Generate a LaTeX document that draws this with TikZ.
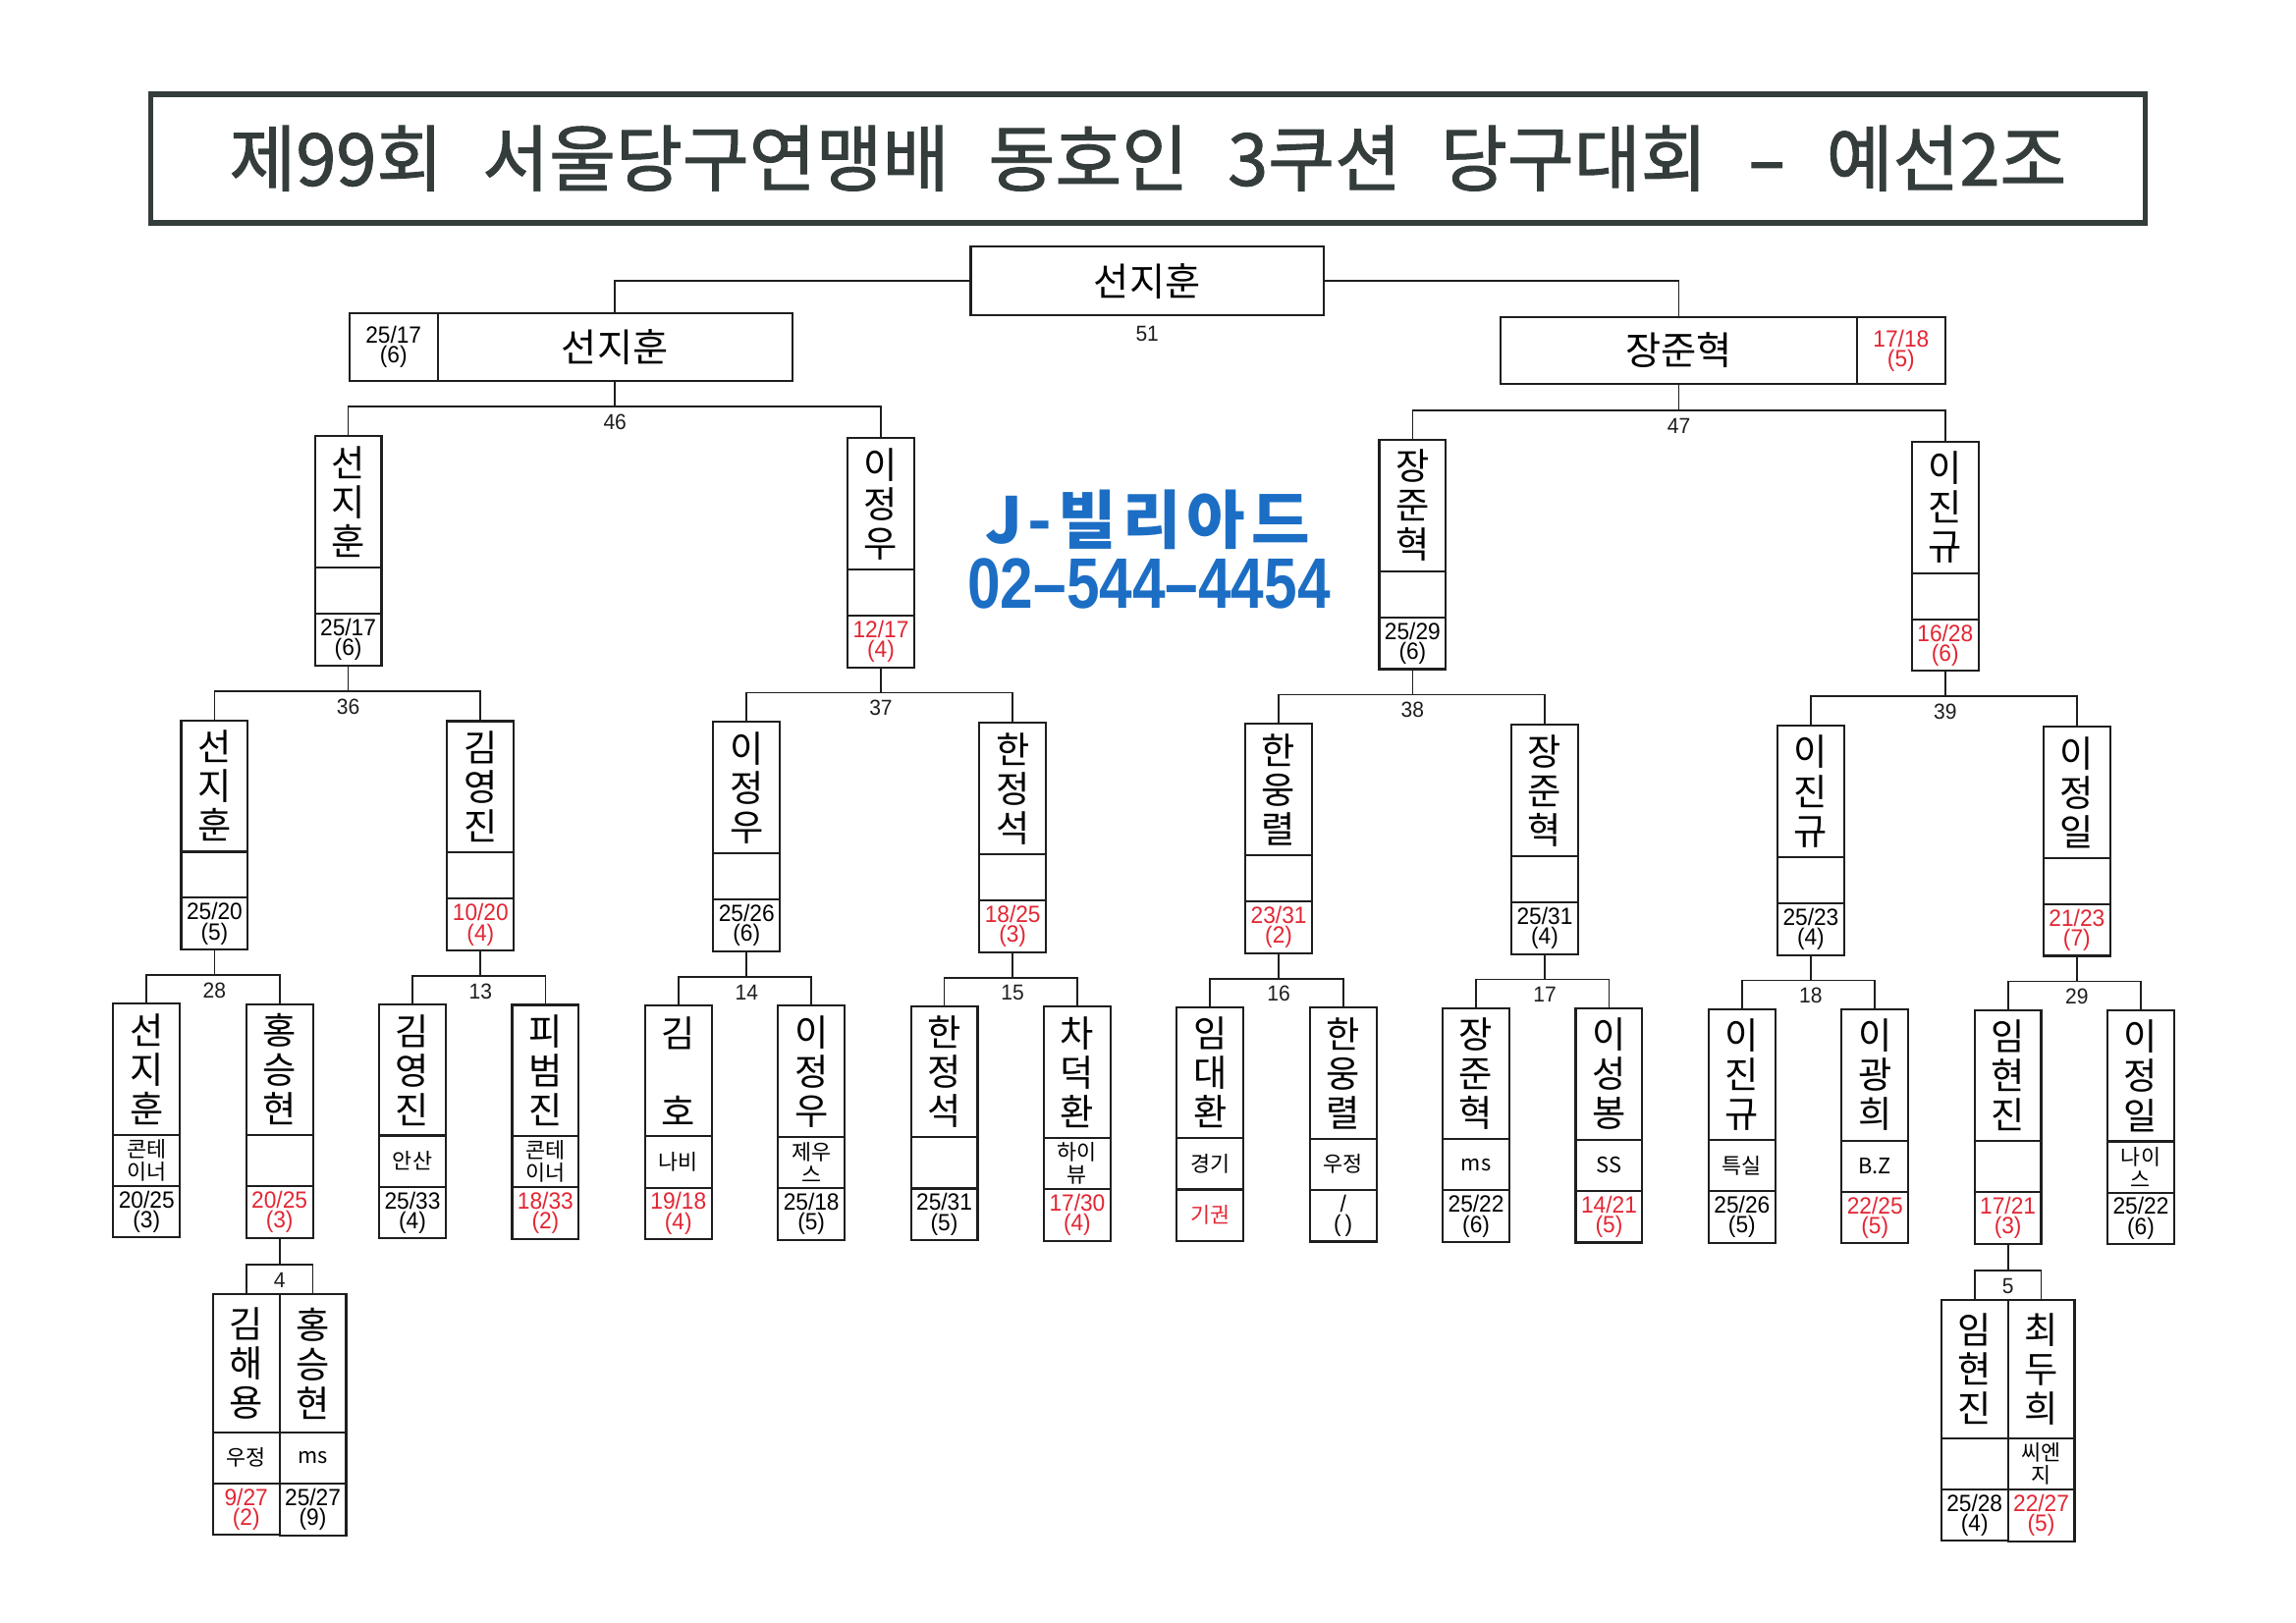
\documentclass[tikz,border=0pt]{standalone}
\usepackage{fontspec}
\usepackage{graphicx}
\setmainfont{Noto Sans CJK KR}
\newfontfamily\krf{Noto Sans CJK KR}
\newfontfamily\titlef[FakeBold=1.3]{Noto Sans CJK KR}
\newfontfamily\numf[FakeStretch=0.95]{Liberation Sans}
\newfontfamily\logonum[FakeStretch=0.83]{Liberation Sans}
\usetikzlibrary{calc}
\definecolor{scorered}{RGB}{226,38,52}
\definecolor{logoblue}{RGB}{28,110,196}
\definecolor{titlegray}{RGB}{52,60,60}
\definecolor{ink}{RGB}{30,30,30}
\newlength\dpx \setlength\dpx{0.1491mm}
\newcommand\namefont{\krf\fontsize{10.6pt}{11.4pt}\selectfont}
\newcommand\hnamefont{\krf\fontsize{11.2pt}{12pt}\selectfont}
\newcommand\clubfont{\krf\fontsize{6.2pt}{6.6pt}\selectfont}
\newcommand\scorefont{\numf\fontsize{6.8pt}{5.8pt}\selectfont}
\newcommand\lblfont{\numf\fontsize{6.3pt}{7pt}\selectfont}
\newcommand\titlefont{\titlef\fontsize{21pt}{23pt}\selectfont}
\newcommand\tsp{\hspace{4mm}}
\newcommand\lsp{\hspace{0.6mm}}
\tikzset{
  part/.style={draw=ink, line width=0.6pt, inner sep=0pt, outer sep=0pt,
    minimum width=45.5*\dpx, anchor=north, align=center},
  namepart/.style={part, font=\namefont},
  clubpart/.style={part, minimum height=35*\dpx, font=\clubfont},
  midpart/.style={part, minimum height=31.5*\dpx},
  scorepart/.style={part, minimum height=35.3*\dpx, font=\scorefont},
  hbox/.style={draw=ink, line width=0.6pt, inner sep=0pt, outer sep=0pt,
    minimum height=46*\dpx, align=center},
  lbl/.style={font=\lblfont, inner sep=0pt, text=ink},
  conn/.style={draw=ink, line width=0.5pt},
}
% three-part box: id, x, base top y, name, club, score, colour, name height
\newcommand\bigbox[8]{%
  \pgfmathsetmacro\yy{#3+0.0034*#2}%
  \node[namepart, minimum height=#8*\dpx] (#1) at (#2,\yy) {#4};
  \node[clubpart] (#1c) at (#1.south) {#5};
  \node[scorepart, text=#7] (#1s) at (#1c.south) {#6};
}
% two-part box with empty middle: id, x, base top y, name, score, colour
\newcommand\midbox[6]{%
  \pgfmathsetmacro\yy{#3+0.0034*#2}%
  \node[namepart, minimum height=89.8*\dpx] (#1) at (#2,\yy) {#4};
  \node[midpart] (#1m) at (#1.south) {};
  \node[scorepart, text=#6] (#1s) at (#1m.south) {#5};
}
% bracket: label, x, base y, parent, child A, child B
\newcommand\bracket[6]{%
  \pgfmathsetmacro\yy{#3+0.0034*#2}%
  \coordinate (br#1) at (#2,\yy);
  \draw[conn] (#4.south) -- (#4.south |- br#1);
  \draw[conn] (#5.north) |- (br#1) -| (#6.north);
  \node[lbl] (lb#1) at ($(br#1)+(0,10.5)$) {#1};
}
\begin{document}
\begin{tikzpicture}[x=0.1491mm, y=-0.1491mm]
\fill[white] (0,0) rectangle (1568.07,1108.65);
\useasboundingbox (0,0) rectangle (1568.07,1108.65);

% title
\node[draw=titlegray, line width=1.6pt, minimum width=1362*\dpx, minimum height=88*\dpx,
  inner sep=0pt, text=titlegray, font=\titlefont] (title) at (784,108.2)
  {제99회\tsp 서울당구연맹배\tsp 동호인\tsp 3쿠션\tsp 당구대회\tsp \scalebox{1.6}[1]{-}\tsp 예선2조};

% logo
\node[font=\krf\bfseries\fontsize{18.4pt}{20pt}\selectfont, text=logoblue, inner sep=0pt] (logo1) at (783.6,354.8) {J\lsp-\lsp 빌\lsp 리\lsp 아\lsp 드};
\node[font=\logonum\bfseries\fontsize{20.7pt}{22pt}\selectfont, text=logoblue, inner sep=0pt] (logo2) at (784.7,398.4) {02–544–4454};

% final and semi-finals
\node[hbox, minimum width=241*\dpx, minimum height=47*\dpx, font=\hnamefont] (final) at (783.5,192) {선지훈};
\node[lbl] (lb51) at ($(final.south)+(0,12.5)$) {51};
\node[hbox, minimum width=242*\dpx, font=\hnamefont] (semiL) at (420,237) {선지훈};
\node[hbox, minimum width=60.5*\dpx, font=\scorefont, anchor=east] (semiLs) at (semiL.west) {25/17\\(6)};
\node[hbox, minimum width=243*\dpx, font=\hnamefont] (semiR) at (1146.6,239.5) {장준혁};
\node[hbox, minimum width=60.5*\dpx, font=\scorefont, text=scorered, anchor=west] (semiRs) at (semiR.east) {17/18\\(5)};
\draw[conn] (final.west) -| (semiL.north);
\draw[conn] (final.east) -| (semiR.north);

% quarter-finals
\midbox{q1}{237.8}{297.2}{선\\지\\훈}{25/17\\(6)}{black}
\midbox{q2}{601.6}{297.2}{이\\정\\우}{12/17\\(4)}{scorered}
\midbox{q3}{964.7}{297.2}{장\\준\\혁}{25/29\\(6)}{black}
\midbox{q4}{1328.5}{297.2}{이\\진\\규}{16/28\\(6)}{scorered}
\bracket{46}{420}{276.4}{semiL}{q1}{q2}
\bracket{47}{1146.6}{276.6}{semiR}{q3}{q4}

% round of 16
\midbox{r1}{146.5}{491.5}{선\\지\\훈}{25/20\\(5)}{black}
\midbox{r2}{328.2}{491.5}{김\\영\\진}{10/20\\(4)}{scorered}
\midbox{r3}{509.9}{491.5}{이\\정\\우}{25/26\\(6)}{black}
\midbox{r4}{691.6}{491.5}{한\\정\\석}{18/25\\(3)}{scorered}
\midbox{r5}{873.3}{491.5}{한\\웅\\렬}{23/31\\(2)}{scorered}
\midbox{r6}{1055.0}{491.5}{장\\준\\혁}{25/31\\(4)}{black}
\midbox{r7}{1236.7}{491.5}{이\\진\\규}{25/23\\(4)}{black}
\midbox{r8}{1418.4}{491.5}{이\\정\\일}{21/23\\(7)}{scorered}
\bracket{36}{237.8}{471.2}{q1s}{r1}{r2}
\bracket{37}{601.6}{471.2}{q2s}{r3}{r4}
\bracket{38}{964.7}{471.2}{q3s}{r5}{r6}
\bracket{39}{1328.5}{471.2}{q4s}{r7}{r8}

% round of 32
\bigbox{s1}{100.1}{685.2}{선\\지\\훈}{콘테\\이너}{20/25\\(3)}{black}{89.5}
\bigbox{s2}{190.9}{685.2}{홍\\승\\현}{}{20/25\\(3)}{scorered}{89.5}
\bigbox{s3}{281.7}{685.2}{김\\영\\진}{안산}{25/33\\(4)}{black}{89.5}
\bigbox{s4}{372.5}{685.2}{피\\범\\진}{콘테\\이너}{18/33\\(2)}{scorered}{89.5}
\bigbox{s5}{463.3}{685.2}{김\\[11.4pt]호}{나비}{19/18\\(4)}{scorered}{89.5}
\bigbox{s6}{554.1}{685.2}{이\\정\\우}{제우\\스}{25/18\\(5)}{black}{89.5}
\bigbox{s7}{644.9}{685.2}{한\\정\\석}{}{25/31\\(5)}{black}{89.5}
\bigbox{s8}{735.7}{685.2}{차\\덕\\환}{하이\\뷰}{17/30\\(4)}{scorered}{89.5}
\bigbox{s9}{826.5}{685.2}{임\\대\\환}{경기}{{\clubfont 기권}}{scorered}{89.5}
\bigbox{s10}{917.3}{685.2}{한\\웅\\렬}{우정}{/\\(\,)}{black}{89.5}
\bigbox{s11}{1008.1}{685.2}{장\\준\\혁}{ms}{25/22\\(6)}{black}{89.5}
\bigbox{s12}{1098.9}{685.2}{이\\성\\봉}{SS}{14/21\\(5)}{scorered}{89.5}
\bigbox{s13}{1189.7}{685.2}{이\\진\\규}{특실}{25/26\\(5)}{black}{89.5}
\bigbox{s14}{1280.5}{685.2}{이\\광\\희}{B.Z}{22/25\\(5)}{scorered}{89.5}
\bigbox{s15}{1371.3}{685.2}{임\\현\\진}{}{17/21\\(3)}{scorered}{89.5}
\bigbox{s16}{1462.1}{685.2}{이\\정\\일}{나이\\스}{25/22\\(6)}{black}{89.5}
\bracket{28}{146.5}{665.5}{r1s}{s1}{s2}
\bracket{13}{328.2}{665.5}{r2s}{s3}{s4}
\bracket{14}{509.9}{665.5}{r3s}{s5}{s6}
\bracket{15}{691.6}{665.5}{r4s}{s7}{s8}
\bracket{16}{873.3}{665.5}{r5s}{s9}{s10}
\bracket{17}{1055.0}{665.5}{r6s}{s11}{s12}
\bracket{18}{1236.7}{665.5}{r7s}{s13}{s14}
\bracket{29}{1418.4}{665.5}{r8s}{s15}{s16}

% preliminary matches
\bigbox{pa1}{168.15}{883.4}{김\\해\\용}{우정}{9/27\\(2)}{scorered}{94.3}
\bigbox{pa2}{213.65}{883.4}{홍\\승\\현}{ms}{25/27\\(9)}{black}{94.3}
\bigbox{pb1}{1348.55}{883.4}{임\\현\\진}{}{25/28\\(4)}{black}{94.3}
\bigbox{pb2}{1394.05}{883.4}{최\\두\\희}{씨엔\\지}{22/27\\(5)}{scorered}{94.3}
\bracket{4}{190.9}{863.3}{s2s}{pa1}{pa2}
\bracket{5}{1371.3}{863.3}{s15s}{pb1}{pb2}
\end{tikzpicture}
\end{document}
